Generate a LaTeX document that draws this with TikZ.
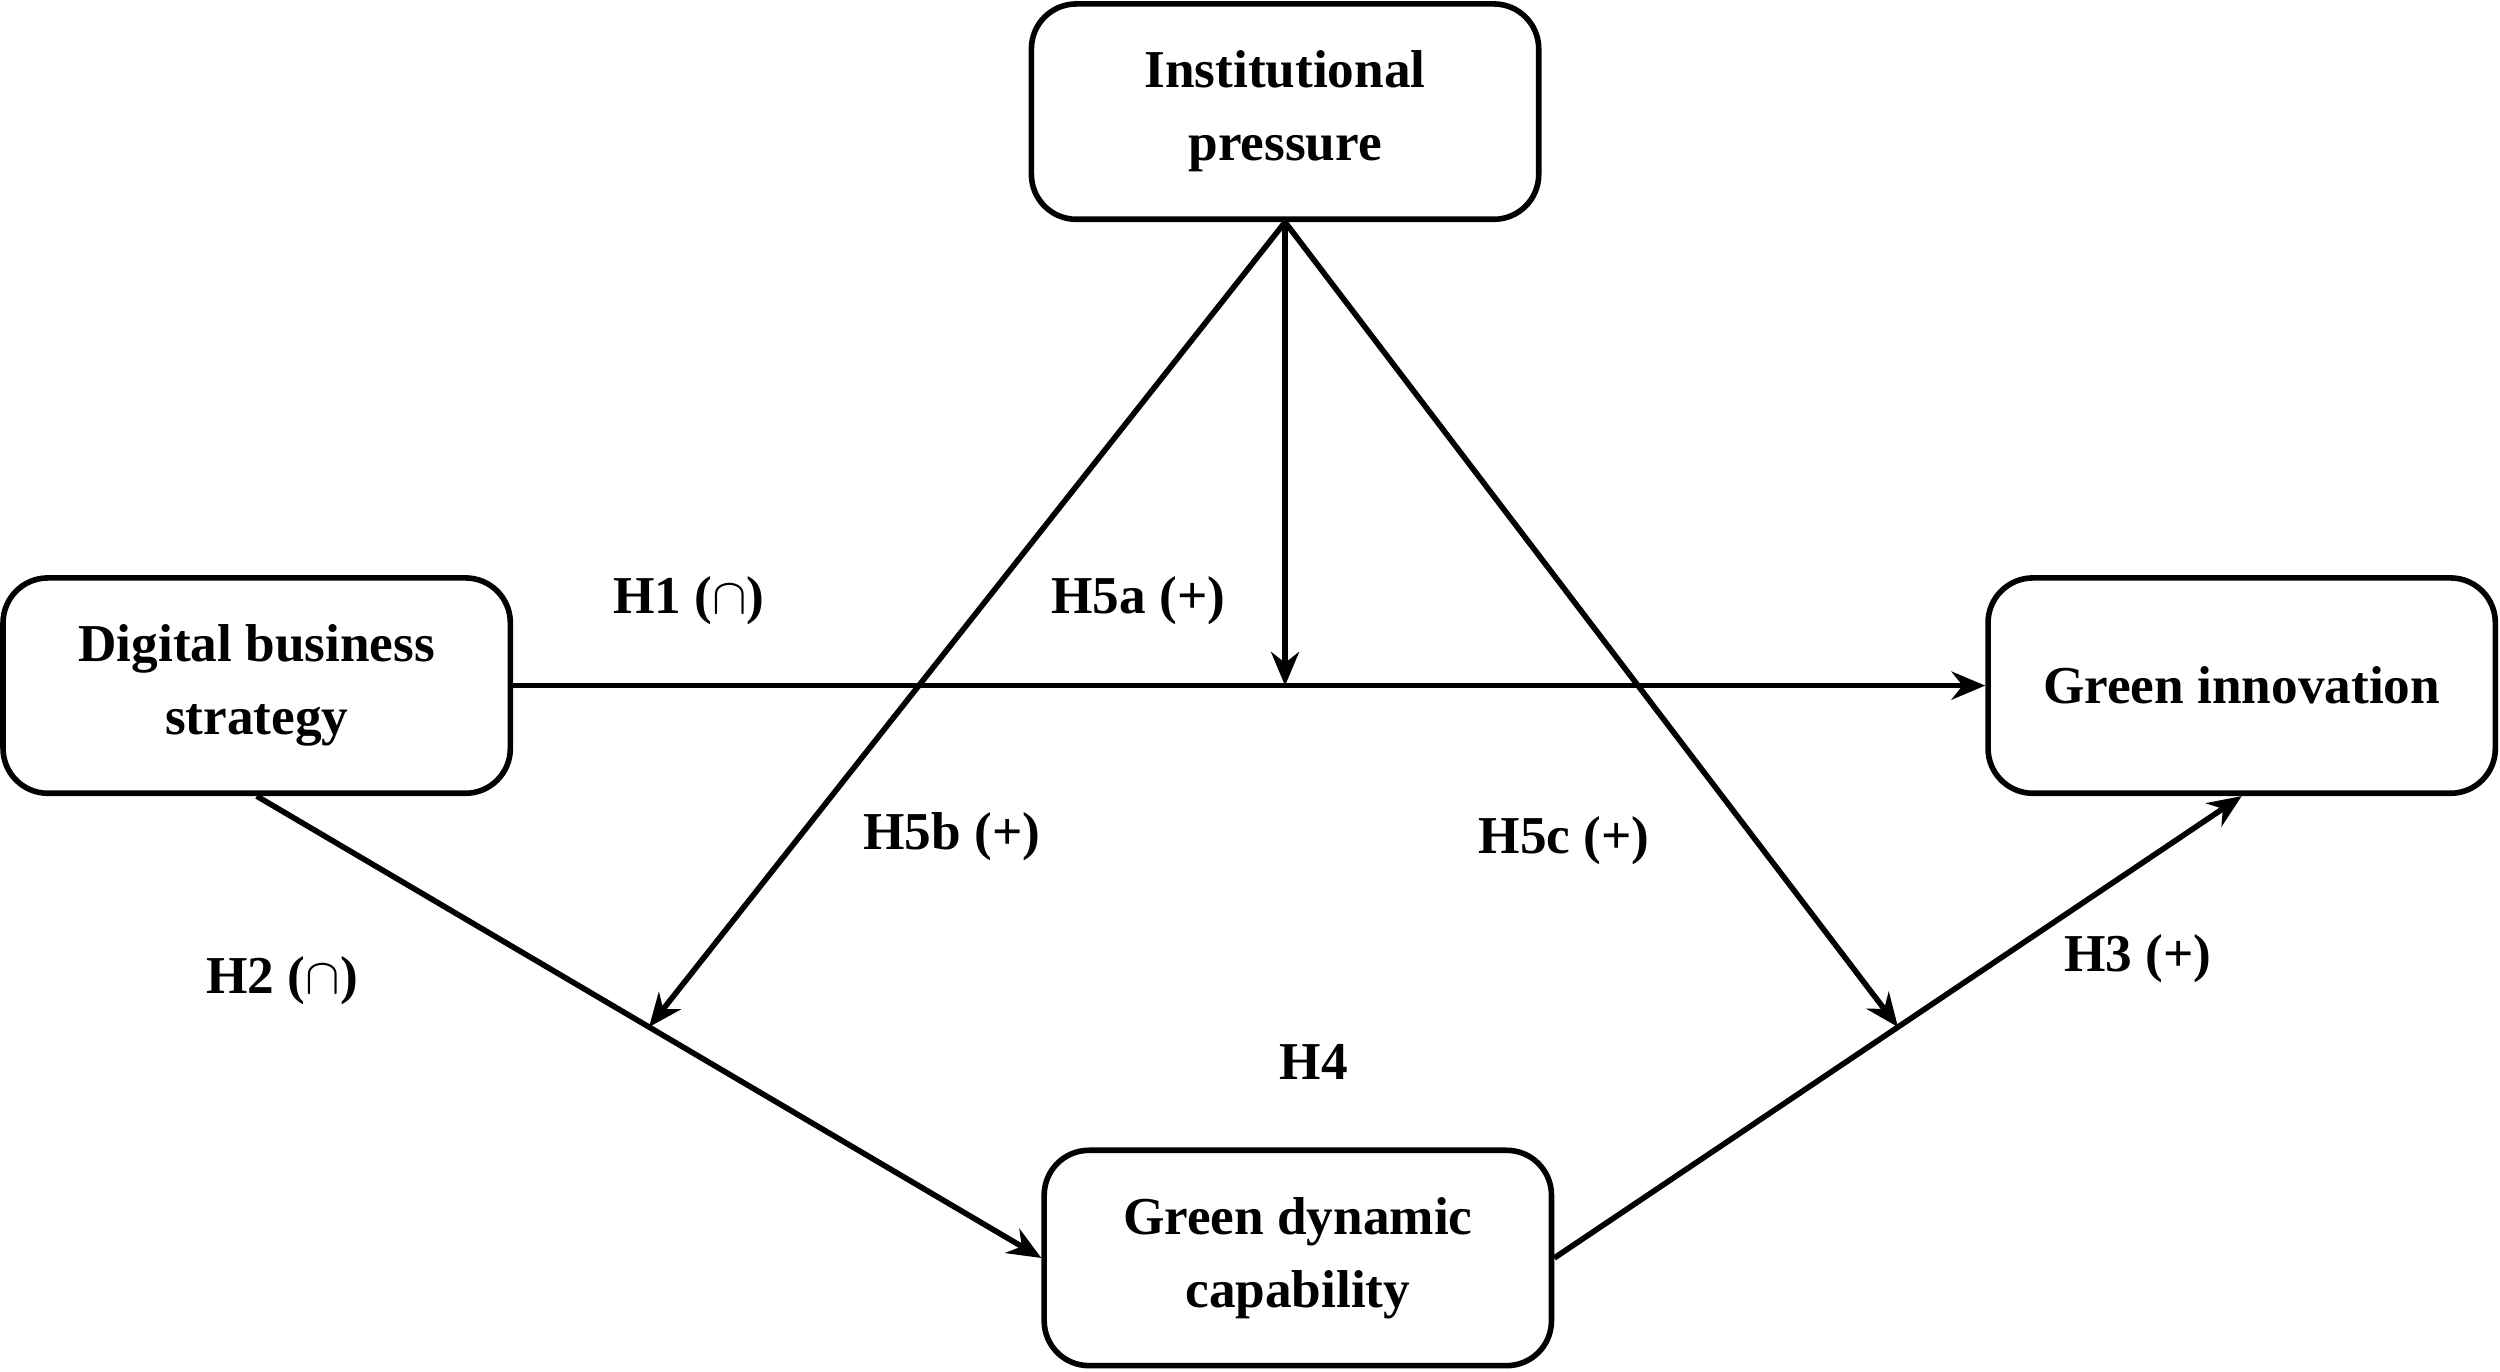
\documentclass[tikz,border=0pt]{standalone}
\usepackage{fontspec}
\setmainfont{Liberation Serif}
\usetikzlibrary{arrows.meta,calc,positioning}
\tikzset{
	construct/.style={draw,line width=1pt,rounded corners=8pt,minimum width=3.18cm,
		minimum height=1.35cm,align=center,font=\bfseries\fontsize{9.5}{13}\selectfont},
	path/.style={line width=1pt,-{Stealth[length=6pt,width=5pt]}},
	hyp/.style={font=\bfseries\fontsize{9.5}{12}\selectfont}
}
\begin{document}
\begin{tikzpicture}[x=0.01cm,y=-0.01cm]
   \useasboundingbox (0,0) rectangle (1568,860);
   \node[construct] (ip) at (806,70) {Institutional\\pressure};
   \node[construct] (dbs) at (161,430) {Digital business\\strategy};
   \node[construct] (gi) at (1406,430) {Green innovation};
   \node[construct] (gdc) at (814,789) {Green dynamic\\capability};
   % main paths
   \draw[path] (dbs.east) -- (gi.west);
   \draw[path] (dbs.south) -- (gdc.west);
   \draw[path] (gdc.east) -- (gi.south);
   % moderation
   \coordinate (m1) at (ip.south |- dbs.east);
   \coordinate (m2) at ($(dbs.south)!0.5!(gdc.west)$);
   \coordinate (m3) at ($(gdc.east)!0.5!(gi.south)$);
   \draw[path] (ip.south) -- (m1);
   \draw[path] (ip.south) -- (m2);
   \draw[path] (ip.south) -- (m3);
   % labels
   \node[hyp] (h1) at (432,377) {H1 ($\cap$)};
   \node[hyp] (h5a) at (714,377) {H5a (+)};
   \node[hyp] (h5b) at (597,525) {H5b (+)};
   \node[hyp] (h5c) at (981,527) {H5c (+)};
   \node[hyp] (h2) at (177,615) {H2 ($\cap$)};
   \node[hyp] (h4) at (824,666) {H4};
   \node[hyp] (h3) at (1341,601) {H3 (+)};
\end{tikzpicture}
\end{document}
